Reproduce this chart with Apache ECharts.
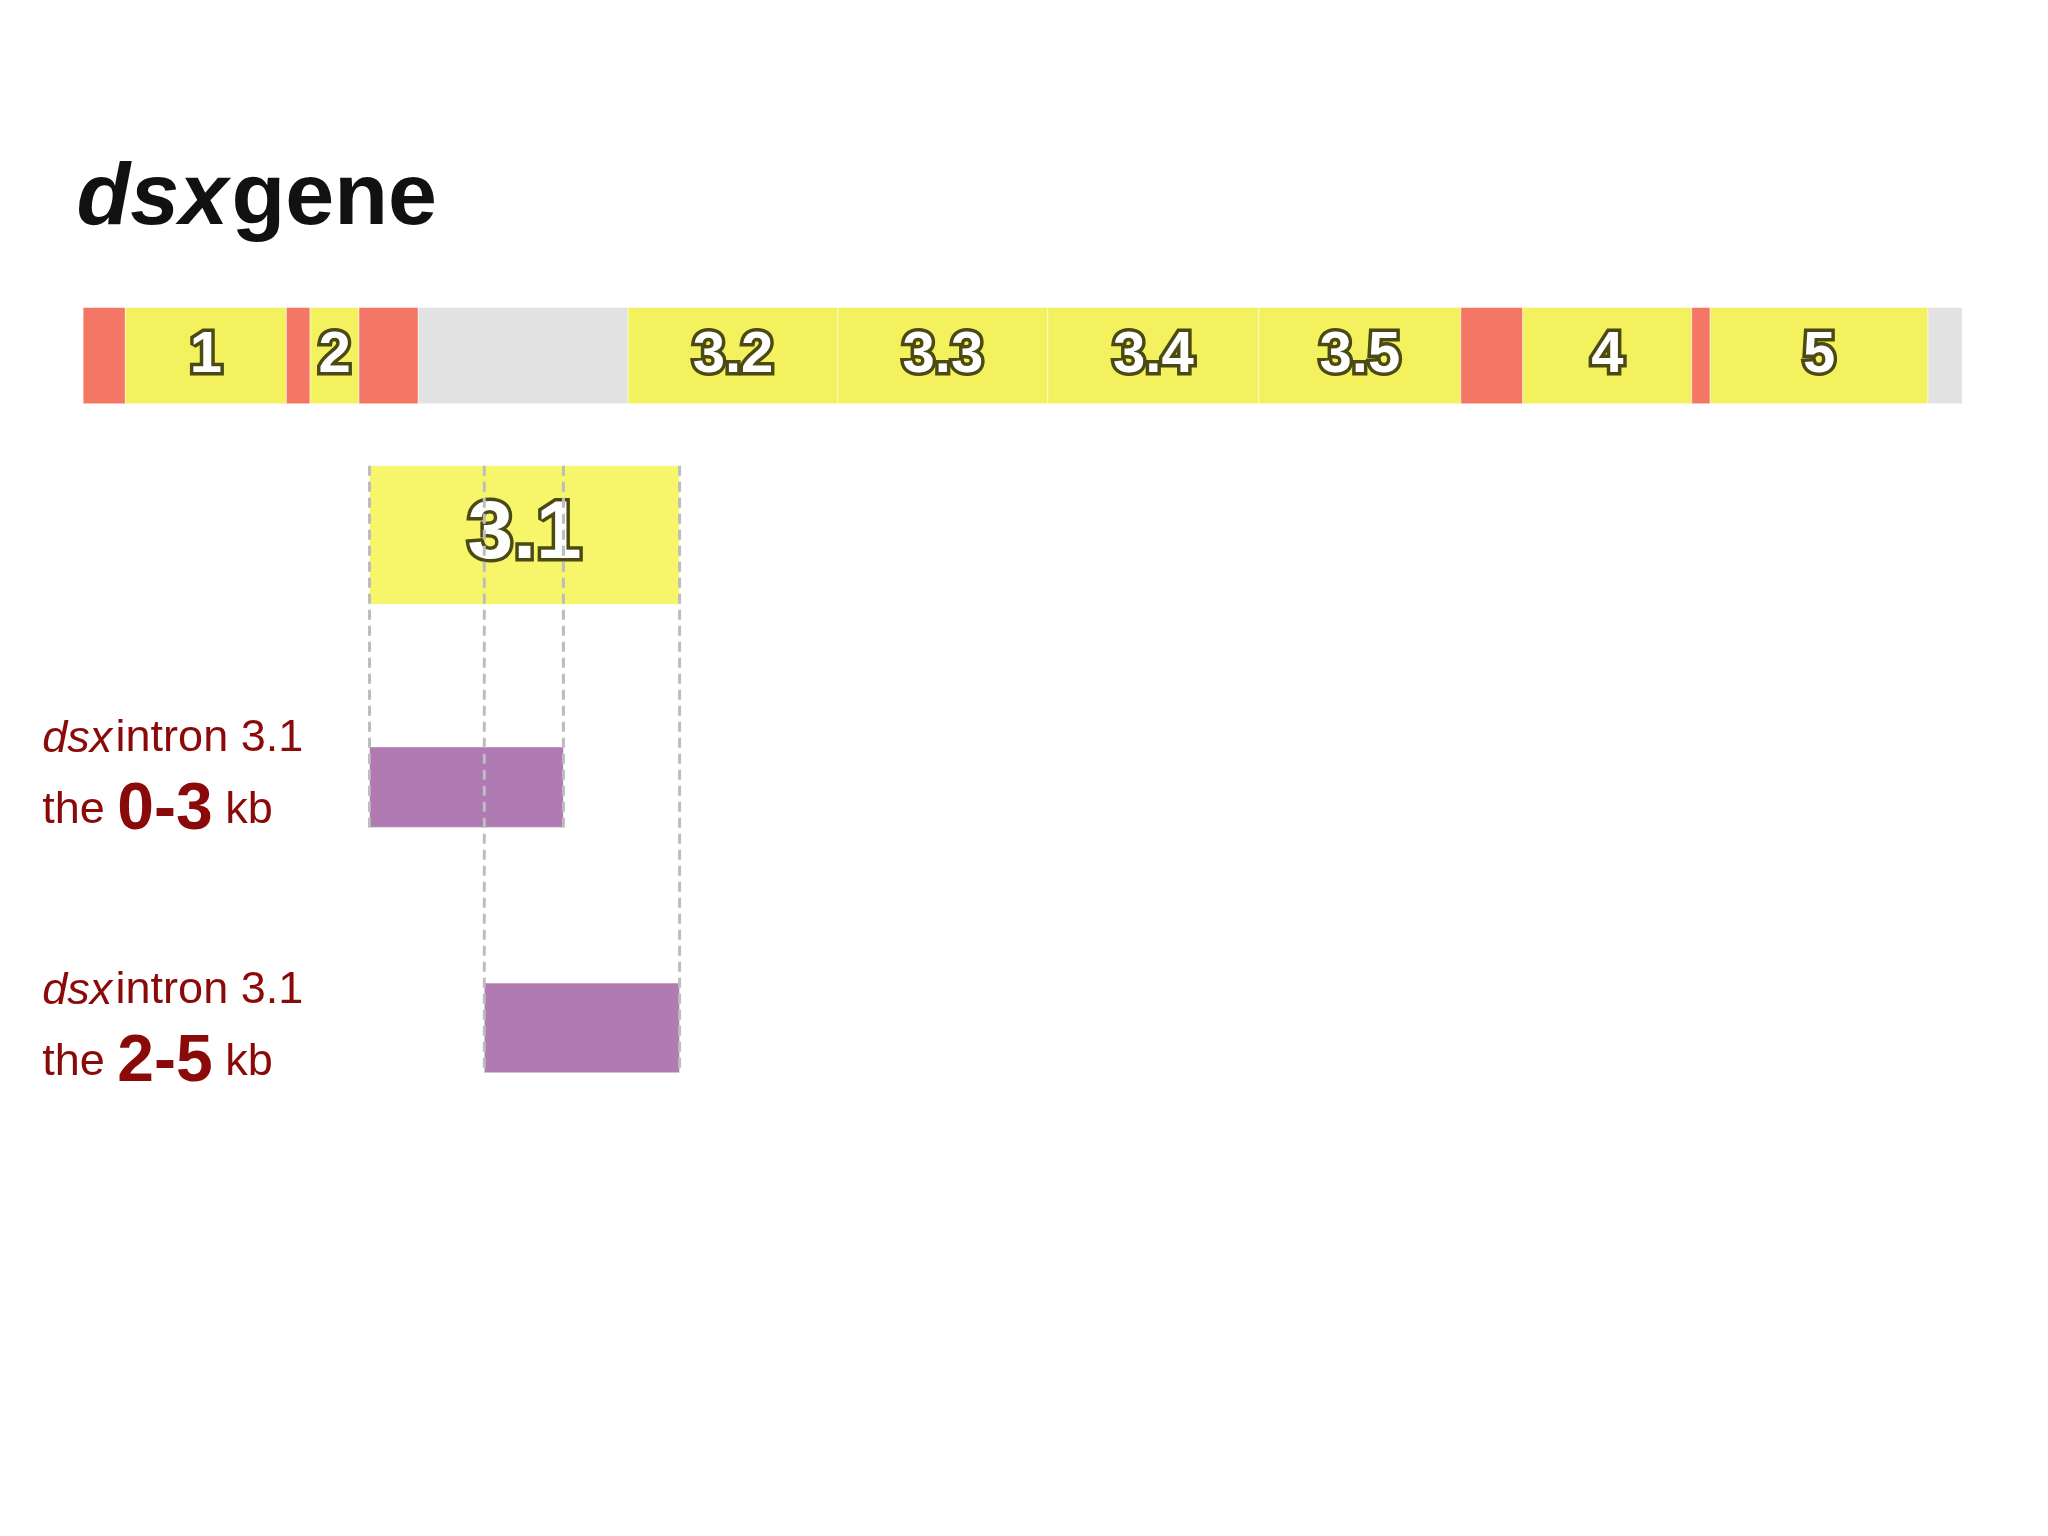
<!DOCTYPE html>
<html>
<head>
<meta charset="utf-8">
<script src="https://cdn.jsdelivr.net/npm/echarts@6/dist/echarts.min.js"></script>
<style>html,body{margin:0;padding:0;background:#fff}#main{width:2048px;height:1536px}</style>
</head>
<body>
<div id="main"></div>
<script>
// gene bar segments: [start, end, kind, label]  (page units, 1552 x 1164 canvas)
var segStart = [63, 95, 217, 235, 272, 317, 476, 635, 794, 954, 1107, 1154, 1282, 1296, 1461];
var segEnd   = [95, 217, 235, 272, 317, 476, 635, 794, 954, 1107, 1154, 1282, 1296, 1461, 1487];
var segKind  = ['utr','exon','utr','exon','utr','intron','exon','exon','exon','exon','utr','exon','utr','exon','intron'];
var segLabel = ['', '1', '', '2', '', '', '3.2', '3.3', '3.4', '3.5', '', '4', '', '5', ''];
var barTop = 233, barBottom = 306;

// zoomed exon 3.1 and the two fragments: [x0, x1, y0, y1]
var zoomBox = [280, 515, 353, 458];
var fragments = [[280, 427, 566, 627], [367, 515, 745, 813]];
// dashed guides: [x, yTop, yBottom]
var guides = [[280, 353, 627], [367, 353, 813], [427, 353, 627], [515, 353, 813]];

var kindColor = {utr: '#f47766', exon: '#f3f15e', intron: '#e2e2e2'};
var S = 2048 / 1552;

function rectItem(color, textFn) {
  return function (params, api) {
    var p0 = api.coord([api.value(0), api.value(2)]);
    var p1 = api.coord([api.value(1), api.value(3)]);
    var el = {
      type: 'rect',
      shape: {x: p0[0], y: p0[1], width: p1[0] - p0[0], height: p1[1] - p0[1]},
      style: {fill: typeof color === 'function' ? color(params.dataIndex) : color, stroke: 'rgba(255,255,255,0.5)', lineWidth: 1}
    };
    if (textFn) {
      var t = textFn(params.dataIndex);
      if (t) {
        el.textContent = {style: {text: t.text, fill: '#fff', fontSize: t.size, fontWeight: 'bold',
          fontFamily: 'Liberation Sans, Arial', stroke: '#4a4a12', lineWidth: 7}};
        el.textConfig = {position: 'inside'};
      }
    }
    return el;
  };
}

var segData = segStart.map(function (s, i) { return [s, segEnd[i], barTop, barBottom]; });

var chart = echarts.init(document.getElementById('main'));
chart.setOption({
  animation: false,
  backgroundColor: '#fff',
  grid: {left: 0, right: 0, top: 0, bottom: 0},
  xAxis: {type: 'value', min: 0, max: 1552, show: false},
  yAxis: {type: 'value', min: 0, max: 1164, inverse: true, show: false},
  graphic: [
    {type: 'text', left: 58 * S, top: 118 * S, style: {
      text: '{i|dsx} {b|gene}', fontFamily: 'Liberation Sans, Arial',
      rich: {i: {fontSize: 88, fontWeight: 'bold', fontStyle: 'italic', fill: '#111'},
             b: {fontSize: 88, fontWeight: 'bold', fill: '#111'}}}},
    {type: 'text', left: 32 * S, top: 543 * S, style: {
      text: '{i|dsx} {n|intron 3.1}\n{n|the }{b|0-3}{n| kb}', fontFamily: 'Liberation Sans, Arial', fill: '#8a0a0a',
      rich: {i: {fontSize: 45, fontStyle: 'italic', fill: '#8a0a0a', lineHeight: 72},
             n: {fontSize: 45, fill: '#8a0a0a', lineHeight: 72},
             b: {fontSize: 66, fontWeight: 'bold', fill: '#8a0a0a', lineHeight: 72}}}},
    {type: 'text', left: 32 * S, top: 734 * S, style: {
      text: '{i|dsx} {n|intron 3.1}\n{n|the }{b|2-5}{n| kb}', fontFamily: 'Liberation Sans, Arial', fill: '#8a0a0a',
      rich: {i: {fontSize: 45, fontStyle: 'italic', fill: '#8a0a0a', lineHeight: 72},
             n: {fontSize: 45, fill: '#8a0a0a', lineHeight: 72},
             b: {fontSize: 66, fontWeight: 'bold', fill: '#8a0a0a', lineHeight: 72}}}}
  ],
  series: [
    {type: 'custom', data: segData,
     renderItem: rectItem(function (i) { return kindColor[segKind[i]]; },
       function (i) { return segLabel[i] ? {text: segLabel[i], size: 58} : null; })},
    {type: 'custom', data: [zoomBox], renderItem: rectItem('#f7f56a', function () { return {text: '3.1', size: 82}; })},
    {type: 'custom', data: fragments, renderItem: rectItem('#b07ab2')},
    {type: 'custom', data: guides, z: 5,
     renderItem: function (params, api) {
       var a = api.coord([api.value(0), api.value(1)]);
       var b = api.coord([api.value(0), api.value(2)]);
       return {type: 'line', shape: {x1: a[0], y1: a[1], x2: b[0], y2: b[1]},
         style: {stroke: '#bdbdbd', lineWidth: 3, lineDash: [10, 6]}};
     }}
  ]
});
</script>
</body>
</html>
